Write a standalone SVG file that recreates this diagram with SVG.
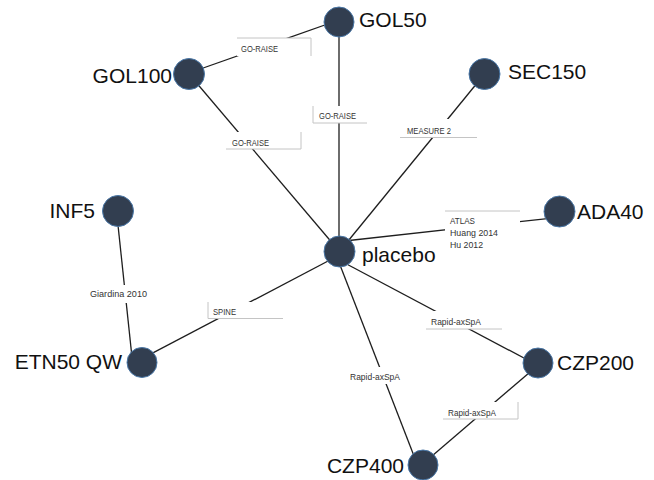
<svg xmlns="http://www.w3.org/2000/svg" width="654" height="480" viewBox="0 0 654 480">
<style>
.edge{stroke:#1e1e1e;stroke-width:1.3;fill:none}
.node{fill:#323e50;stroke:#4a78a8;stroke-width:1}
.nl{font-family:"Liberation Sans",Arial,sans-serif;font-size:21px;fill:#111}
.bx{fill:#fff;stroke:none}
.bd{stroke:#c4c4c4;stroke-width:1;fill:none}
.el{font-family:"Liberation Sans",Arial,sans-serif;font-size:8.2px;fill:#333}
</style>
<rect width="654" height="480" fill="#fff"/>
<g id="connectors">
<line class="edge" x1="189" y1="73" x2="339" y2="20"/>
<line class="edge" x1="339" y1="22" x2="339" y2="251"/>
<line class="edge" x1="189" y1="74" x2="339.5" y2="251.5"/>
<line class="edge" x1="484.5" y1="74" x2="339.5" y2="251.5"/>
<line class="edge" x1="559" y1="217.3" x2="340" y2="241.5"/>
<line class="edge" x1="116.5" y1="211" x2="132.5" y2="362"/>
<line class="edge" x1="339.5" y1="255" x2="142" y2="358.7"/>
<line class="edge" x1="339.5" y1="260.3" x2="538" y2="365.5"/>
<line class="edge" x1="340" y1="265" x2="417.5" y2="465"/>
<line class="edge" x1="538" y1="365.2" x2="425" y2="462"/>
<g id="label-gol100-gol50">
<rect class="bx" x="237" y="38" width="74" height="18"/>
<path class="bd" d="M237 38H311V56"/>
<text class="el" x="241" y="52" textLength="37" lengthAdjust="spacingAndGlyphs">GO-RAISE</text>
</g>
<g id="label-gol50-placebo">
<rect class="bx" x="313" y="106" width="54" height="17"/>
<path class="bd" d="M313 106V123H367"/>
<text class="el" x="319" y="119" textLength="37" lengthAdjust="spacingAndGlyphs">GO-RAISE</text>
</g>
<g id="label-gol100-placebo">
<rect class="bx" x="226" y="132" width="75" height="17"/>
<path class="bd" d="M301 132V149H226"/>
<text class="el" x="232" y="146" textLength="37" lengthAdjust="spacingAndGlyphs">GO-RAISE</text>
</g>
<g id="label-sec150-placebo">
<rect class="bx" x="400" y="119" width="77" height="18.5"/>
<path class="bd" d="M400 137.5H477"/>
<text class="el" x="407" y="134" textLength="44" lengthAdjust="spacingAndGlyphs">MEASURE 2</text>
</g>
<g id="label-ada40-placebo">
<rect class="bx" x="445" y="211" width="75" height="40"/>
<path class="bd" d="M445 211H520"/>
<text class="el" x="450" y="224" textLength="25" lengthAdjust="spacingAndGlyphs">ATLAS</text>
<text class="el" x="450" y="236" textLength="48" lengthAdjust="spacingAndGlyphs">Huang 2014</text>
<text class="el" x="450" y="247.5" textLength="33" lengthAdjust="spacingAndGlyphs">Hu 2012</text>
</g>
<g id="label-inf5-etn50">
<rect class="bx" x="87" y="285" width="63" height="18"/>
<text class="el" x="90" y="297" textLength="57" lengthAdjust="spacingAndGlyphs">Giardina 2010</text>
</g>
<g id="label-placebo-etn50">
<rect class="bx" x="208" y="302" width="75" height="17"/>
<path class="bd" d="M208 302V318.5H283"/>
<text class="el" x="213" y="315" textLength="23" lengthAdjust="spacingAndGlyphs">SPINE</text>
</g>
<g id="label-placebo-czp200">
<rect class="bx" x="426" y="311" width="76" height="18"/>
<path class="bd" d="M426 329H502"/>
<text class="el" x="431" y="324.5" textLength="50" lengthAdjust="spacingAndGlyphs">Rapid-axSpA</text>
</g>
<g id="label-placebo-czp400">
<rect class="bx" x="347" y="367" width="56" height="17"/>
<text class="el" x="350" y="380" textLength="50" lengthAdjust="spacingAndGlyphs">Rapid-axSpA</text>
</g>
<g id="label-czp200-czp400">
<rect class="bx" x="443" y="402" width="75" height="17"/>
<path class="bd" d="M518 402V419H443"/>
<text class="el" x="448" y="416" textLength="48" lengthAdjust="spacingAndGlyphs">Rapid-axSpA</text>
</g>
</g>
<g id="node-gol50"><circle class="node" cx="339" cy="22" r="15"/><text class="nl" x="359" y="27">GOL50</text></g>
<g id="node-gol100"><circle class="node" cx="189" cy="74" r="15.5"/><text class="nl" x="172" y="83" text-anchor="end">GOL100</text></g>
<g id="node-sec150"><circle class="node" cx="484.5" cy="74" r="15.5"/><text class="nl" x="508" y="79">SEC150</text></g>
<g id="node-inf5"><circle class="node" cx="118" cy="211" r="15.5"/><text class="nl" x="95" y="218" text-anchor="end">INF5</text></g>
<g id="node-ada40"><circle class="node" cx="559.5" cy="211.5" r="15.5"/><text class="nl" x="577" y="219">ADA40</text></g>
<g id="node-placebo"><circle class="node" cx="339.5" cy="251.5" r="15.5"/><text class="nl" x="362" y="262">placebo</text></g>
<g id="node-etn50qw"><circle class="node" cx="142" cy="362.5" r="15"/><text class="nl" x="122" y="369" text-anchor="end">ETN50 QW</text></g>
<g id="node-czp200"><circle class="node" cx="538" cy="363" r="15"/><text class="nl" x="557" y="370">CZP200</text></g>
<g id="node-czp400"><circle class="node" cx="423" cy="465" r="15"/><text class="nl" x="404" y="473" text-anchor="end">CZP400</text></g>
</svg>
